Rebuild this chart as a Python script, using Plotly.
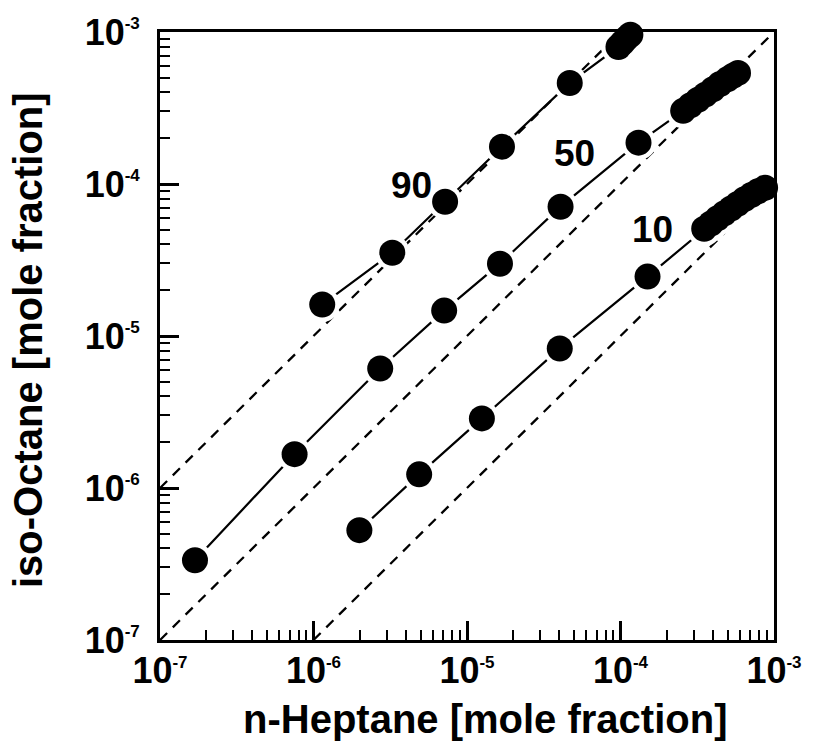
import math
import plotly.graph_objects as go

# ---- data (mole fractions) ----
s90_x = [1.14e-6, 3.26e-6, 7.2e-6, 1.69e-5, 4.67e-5, 9.7e-5, 1.03e-4, 1.09e-4, 1.16e-4, 1.25e-4]
s90_y = [1.61e-5, 3.53e-5, 7.64e-5, 1.76e-4, 4.62e-4, 7.97e-4, 8.5e-4, 9.05e-4, 9.6e-4, 1.03e-3]

s50_x = [1.69e-7, 7.53e-7, 2.72e-6, 7.1e-6, 1.64e-5, 4.07e-5, 1.31e-4,
         2.56e-4, 2.86e-4, 3.2e-4, 3.57e-4, 4.0e-4, 4.45e-4, 4.97e-4, 5.4e-4, 5.83e-4]
s50_y = [3.35e-7, 1.67e-6, 6.11e-6, 1.47e-5, 2.99e-5, 7.09e-5, 1.87e-4,
         3.03e-4, 3.3e-4, 3.58e-4, 3.87e-4, 4.2e-4, 4.55e-4, 4.88e-4, 5.15e-4, 5.38e-4]

s10_x = [1.99e-6, 4.88e-6, 1.25e-5, 4.02e-5, 1.50e-4,
         3.51e-4, 3.88e-4, 4.29e-4, 4.75e-4, 5.25e-4, 5.8e-4, 6.42e-4, 7.1e-4, 7.85e-4, 8.75e-4]
s10_y = [5.28e-7, 1.23e-6, 2.87e-6, 8.28e-6, 2.46e-5,
         5.08e-5, 5.5e-5, 5.95e-5, 6.42e-5, 6.9e-5, 7.4e-5, 7.95e-5, 8.45e-5, 8.95e-5, 9.45e-5]

ref_ratio = [10, 1, 0.1]          # dashed reference lines y = k * x
ref_x_start = [1e-7, 1e-7, 1e-6]
ref_x_end = [1e-4, 1e-3, 1e-3]

labels = ["90", "50", "10"]
label_x = [4.33e-6, 5.02e-5, 1.61e-4]
label_y = [9.74e-5, 1.58e-4, 5.0e-5]

tick_vals = [1e-7, 1e-6, 1e-5, 1e-4, 1e-3]
tick_exps = ["-7", "-6", "-5", "-4", "-3"]
tick_text = ["10<sup><span style='font-size:17px'>%s</span></sup>" % e for e in tick_exps]
minor_vals = [m * 10.0 ** p for p in range(-7, -3) for m in range(2, 10)]

x_title = "n-Heptane [mole fraction]"
y_title = "iso-Octane [mole fraction]"

FONT = "Liberation Sans, Arial, Helvetica, sans-serif"

fig = go.Figure()

# dashed reference lines
for k, x0, x1 in zip(ref_ratio, ref_x_start, ref_x_end):
    fig.add_trace(go.Scatter(x=[x0, x1], y=[k * x0, k * x1], mode="lines",
                             line=dict(color="black", width=2.3, dash="10px,8px"),
                             showlegend=False, hoverinfo="skip"))

series = [(s90_x, s90_y), (s50_x, s50_y), (s10_x, s10_y)]
# solid series lines
for sx, sy in series:
    fig.add_trace(go.Scatter(x=sx, y=sy, mode="lines",
                             line=dict(color="black", width=2.2),
                             showlegend=False, hoverinfo="skip"))
# white halos
for sx, sy in series:
    fig.add_trace(go.Scatter(x=sx, y=sy, mode="markers",
                             marker=dict(color="white", size=35, line=dict(width=0)),
                             cliponaxis=False, showlegend=False, hoverinfo="skip"))
# black markers
for sx, sy in series:
    fig.add_trace(go.Scatter(x=sx, y=sy, mode="markers",
                             marker=dict(color="black", size=26, line=dict(width=0)),
                             cliponaxis=False, showlegend=False))

for t, lx, ly in zip(labels, label_x, label_y):
    fig.add_annotation(x=math.log10(lx), y=math.log10(ly),
                       text=t, showarrow=False,
                       font=dict(family=FONT, size=37, color="black", weight="bold"))

# axis titles
fig.add_annotation(xref="paper", yref="paper", x=0.529, y=-0.09, yanchor="top",
                   text=x_title, showarrow=False,
                   font=dict(family=FONT, size=40, color="black", weight="bold"))
fig.add_annotation(xref="paper", yref="paper", x=-0.216, xanchor="center", y=0.494,
                   text=y_title, showarrow=False, textangle=-90,
                   font=dict(family=FONT, size=40, color="black", weight="bold"))

axis_common = dict(
    type="log",
    tickvals=tick_vals, ticktext=tick_text,
    ticks="inside", ticklen=19, tickwidth=3, tickcolor="black",
    showline=True, linewidth=3, linecolor="black", mirror=True,
    showgrid=False, zeroline=False,
    tickfont=dict(family=FONT, size=36, color="black", weight="bold"),
    minor=dict(tickvals=minor_vals, ticks="inside", ticklen=10, tickwidth=2,
               tickcolor="black", showgrid=False),
)

fig.update_layout(
    width=814, height=747,
    margin=dict(l=160, r=38, t=31, b=107),
    paper_bgcolor="white", plot_bgcolor="white",
    xaxis=dict(range=[-7, -3], ticklabelstandoff=-3, **axis_common),
    yaxis=dict(range=[-7, -3], ticklabelstandoff=10, **axis_common),
)

fig.write_html("out.html")
